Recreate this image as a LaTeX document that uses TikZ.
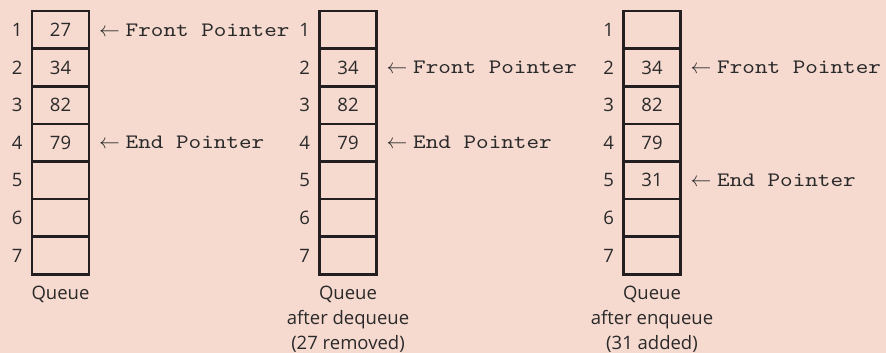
\documentclass[tikz,border=0pt]{standalone}
\usepackage{fontspec}
\setmainfont{Open Sans}
\newfontfamily\monof[FakeStretch=1.17]{lmmono10-regular.otf}
\definecolor{bg}{HTML}{F6DACF}
\definecolor{ink}{HTML}{231F20}
\definecolor{txt}{HTML}{2A2A2A}
\begin{document}
\begin{tikzpicture}[x=1pt,y=1pt,
  cell/.style={draw=ink, line width=2.6pt, minimum width=57pt, minimum height=37.6pt, inner sep=0pt, text=txt, font=\fontsize{18.5}{18.5}\selectfont},
  idx/.style={anchor=east, inner sep=0pt, text=txt, font=\fontsize{18.5}{18.5}\selectfont},
  ptr/.style={anchor=west, inner sep=0pt, text=txt, font=\monof\fontsize{20.5}{20.5}\selectfont},
  caplabel/.style={anchor=north, inner sep=0pt, align=center, text=txt, font=\fontsize{18.5}{25}\selectfont}]
\fill[bg] (0,0) rectangle (886,-353);
\useasboundingbox (0,0) rectangle (886,-353);
% column 1
\node[cell] (a1) at (60.5,-29.8) {27};
\node[cell] (a2) at (60.5,-67.4) {34};
\node[cell] (a3) at (60.5,-105.0) {82};
\node[cell] (a4) at (60.5,-142.6) {79};
\node[cell] (a5) at (60.5,-180.2) {};
\node[cell] (a6) at (60.5,-217.8) {};
\node[cell] (a7) at (60.5,-255.4) {};
% column 2
\node[cell] (b1) at (348,-29.8) {};
\node[cell] (b2) at (348,-67.4) {34};
\node[cell] (b3) at (348,-105.0) {82};
\node[cell] (b4) at (348,-142.6) {79};
\node[cell] (b5) at (348,-180.2) {};
\node[cell] (b6) at (348,-217.8) {};
\node[cell] (b7) at (348,-255.4) {};
% column 3
\node[cell] (c1) at (652,-29.8) {};
\node[cell] (c2) at (652,-67.4) {34};
\node[cell] (c3) at (652,-105.0) {82};
\node[cell] (c4) at (652,-142.6) {79};
\node[cell] (c5) at (652,-180.2) {31};
\node[cell] (c6) at (652,-217.8) {};
\node[cell] (c7) at (652,-255.4) {};
% indices
\foreach \r in {1,...,7} {
  \node[idx] (ia\r) at ([xshift=-8pt]a\r.west) {\r};
  \node[idx] (ib\r) at ([xshift=-8pt]b\r.west) {\r};
  \node[idx] (ic\r) at ([xshift=-8pt]c\r.west) {\r};
}
% pointers
\node[ptr] (fa) at ([xshift=8.5pt]a1.east) {$\leftarrow$\hspace{6pt}Front Pointer};
\node[ptr] (ea) at ([xshift=8.5pt]a4.east) {$\leftarrow$\hspace{6pt}End Pointer};
\node[ptr] (fb) at ([xshift=8.5pt]b2.east) {$\leftarrow$\hspace{6pt}Front Pointer};
\node[ptr] (eb) at ([xshift=8.5pt]b4.east) {$\leftarrow$\hspace{6pt}End Pointer};
\node[ptr] (fc) at ([xshift=8.5pt]c2.east) {$\leftarrow$\hspace{6pt}Front Pointer};
\node[ptr] (ec) at ([xshift=8.5pt]c5.east) {$\leftarrow$\hspace{6pt}End Pointer};
% captions
\node[caplabel] (qa) at ([yshift=-10pt]a7.south) {Queue};
\node[caplabel] (qb) at ([yshift=-10pt]b7.south) {Queue\\after dequeue\\(27 removed)};
\node[caplabel] (qc) at ([yshift=-10pt]c7.south) {Queue\\after enqueue\\(31 added)};
\end{tikzpicture}
\end{document}
